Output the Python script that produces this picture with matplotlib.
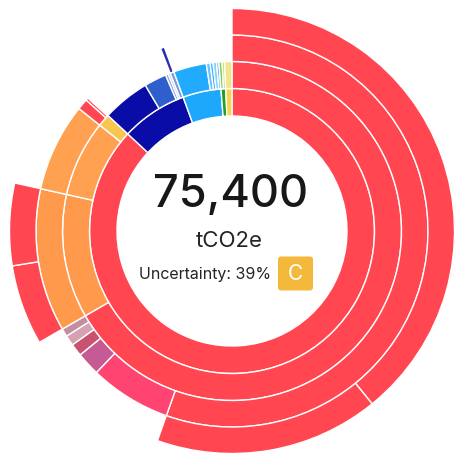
import matplotlib.pyplot as plt
from matplotlib.patches import Wedge, FancyBboxPatch
import numpy as np

# emissions hierarchy, tCO2e per node; ring N children listed in parent order
ring1_values = [65550, 5650, 3270, 400, 530]
ring1_colors = ["#ff4651", "#0a0ca8", "#1ea8fc", "#1f9c2a", "#f4d44c"]

ring2_values = [50260, 8900, 5490, 900, 3410, 1610, 200, 150, 280,
                2370, 272, 209, 251, 168, 220, 180, 530]
ring2_parent = [0, 0, 0, 0, 1, 1, 1, 1, 1, 2, 2, 2, 2, 2, 3, 3, 4]
ring2_colors = ["#ff4651", "#ff9a4c", "#ffa150", "#f7c64e", "#0a0ca8", "#2e5fcc",
                "#8fa8e2", "#a9bde9", "#7f9ad8", "#22aaff", "#62c3ff", "#3fb2fb",
                "#86d2ff", "#4ab8f7", "#86c64a", "#c4e27a", "#f2e58a"]

ring3_values = [41800, 5070, 1470, 775, 645, 500, 8900, 5490, 680, 160, 250]
ring3_parent = [0, 0, 0, 0, 0, 0, 1, 2, 3, 3, 8]
ring3_colors = ["#ff4651", "#ff4472", "#c55a94", "#c9536f", "#d6a2b3", "#c48ea2",
                "#ff9a4c", "#ffa150", "#ff4651", "#ff4651", "#2b2fae"]

ring4_values = [29525, 12275, 4400, 4500]
ring4_parent = [0, 0, 6, 6]
ring4_colors = ["#ff4651"] * 4

total = sum(ring1_values)
uncertainty = 39
grade = "C"

cx, cy = 232, 231
radii = [115, 142.5, 169.5, 196, 222.5]

fig = plt.figure(figsize=(4.55, 4.57), dpi=100)
ax = fig.add_axes([0, 0, 1, 1])
ax.set_xlim(0, 455)
ax.set_ylim(457, 0)
ax.set_aspect("equal")
ax.axis("off")


def layout(values, parents, parent_starts):
    # children start at their parent's start angle and stack clockwise
    starts = []
    cursor = {}
    for v, p in zip(values, parents):
        s = cursor.get(p, parent_starts[p])
        starts.append(s)
        cursor[p] = s + v / total * 360
    return starts


def draw_ring(values, starts, colors, level):
    r_in, r_out = radii[level], radii[level + 1]
    for v, s, c in zip(values, starts, colors):
        span = v / total * 360
        # y axis points down, so increasing angle runs clockwise from 12 o'clock
        ax.add_patch(Wedge((cx, cy), r_out, s - 90, s + span - 90,
                           width=r_out - r_in, facecolor=c,
                           edgecolor="white", linewidth=1.0))


starts1 = list(np.concatenate([[0], np.cumsum(ring1_values)[:-1]]) / total * 360)
starts2 = layout(ring2_values, ring2_parent, starts1)
starts3 = layout(ring3_values, ring3_parent, starts2)
starts4 = layout(ring4_values, ring4_parent, starts3)

draw_ring(ring1_values, starts1, ring1_colors, 0)
draw_ring(ring2_values, starts2, ring2_colors, 1)
draw_ring(ring3_values, starts3, ring3_colors, 2)
draw_ring(ring4_values, starts4, ring4_colors, 3)

fonts = ["Inter", "DejaVu Sans"]
ax.text(cx - 1, 195, f"{total:,}", ha="center", va="center", fontsize=32.5,
        color="#181818", family=fonts, fontweight="medium")
ax.text(cx - 3, 241, "tCO2e", ha="center", va="center", fontsize=16,
        color="#242424", family=fonts)
ax.text(205, 274, f"Uncertainty: {uncertainty}%", ha="center", va="center",
        fontsize=11.5, color="#242424", family=fonts)

ax.add_patch(FancyBboxPatch((278, 256.5), 35, 34, boxstyle="round,pad=0,rounding_size=3",
                            facecolor="#f4b93a", edgecolor="none"))
ax.text(295.5, 273.5, grade, ha="center", va="center", fontsize=15,
        color="white", family=fonts)

fig.savefig("out.png", dpi=100)
